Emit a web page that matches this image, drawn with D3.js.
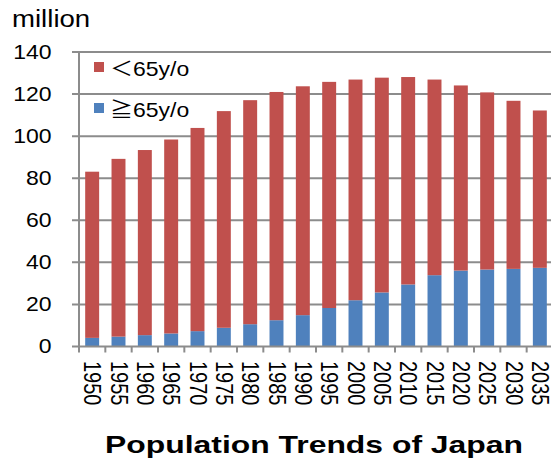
<!DOCTYPE html>
<html>
<head>
<meta charset="utf-8">
<script src="https://cdn.jsdelivr.net/npm/d3@7"></script>
<style>
  body { margin: 0; background: #fff; }
  text { font-family: "Liberation Sans", Arial, "Noto Sans CJK JP", sans-serif; }
</style>
</head>
<body>
<svg id="chart" width="551" height="462"></svg>
<script>
const years = ["1950", "1955", "1960", "1965", "1970", "1975", "1980", "1985", "1990",
  "1995", "2000", "2005", "2010", "2015", "2020", "2025", "2030", "2035"];
const over65 = [4.1, 4.7, 5.4, 6.2, 7.3, 8.9, 10.6, 12.5, 14.9, 18.3, 22.0, 25.7, 29.5, 33.9, 36.1, 36.6, 36.9, 37.4];
const under65 = [79.0, 84.5, 88.0, 92.2, 96.6, 103.0, 106.5, 108.5, 108.8, 107.5, 104.9, 102.1, 98.6, 93.0, 88.0, 84.2, 79.9, 74.8];
const yTicks = [0, 20, 40, 60, 80, 100, 120, 140];

const svg = d3.select("#chart");
const margin = { left: 79, top: 52, right: 553, bottom: 346.5 };
const sx = 1.15; // text in the original is a little wide

const x = d3.scaleBand()
  .domain(years)
  .range([margin.left, margin.right])
  .paddingInner(0.47)
  .paddingOuter(0.235);

const y = d3.scaleLinear()
  .domain([0, 140])
  .range([margin.bottom, margin.top]);

// gridlines
svg.append("g")
  .selectAll("line")
  .data(yTicks.slice(1))
  .enter().append("line")
  .attr("x1", 72).attr("x2", 560)
  .attr("y1", d => y(d)).attr("y2", d => y(d))
  .attr("stroke", "#8c8c8c")
  .attr("stroke-width", 2);

// y axis tick labels
svg.append("g")
  .selectAll("text")
  .data(yTicks)
  .enter().append("text")
  .attr("transform", d => `translate(51.5,${y(d) + 6.5}) scale(${sx},1)`)
  .attr("text-anchor", "end")
  .attr("font-size", 20)
  .attr("fill", "#000")
  .text(d => d);

const stack = years.map((yr, i) => ({ year: yr, over: over65[i], under: under65[i] }));

// bars
const bars = svg.append("g");
bars.selectAll("rect.over")
  .data(stack)
  .enter().append("rect")
  .attr("class", "over")
  .attr("x", d => x(d.year))
  .attr("width", x.bandwidth())
  .attr("y", d => y(d.over))
  .attr("height", d => y(0) - y(d.over))
  .attr("fill", "#4F81BD");

bars.selectAll("rect.under")
  .data(stack)
  .enter().append("rect")
  .attr("class", "under")
  .attr("x", d => x(d.year))
  .attr("width", x.bandwidth())
  .attr("y", d => y(d.over + d.under))
  .attr("height", d => y(d.over) - y(d.over + d.under))
  .attr("fill", "#C0504D");

// axes lines
svg.append("line")
  .attr("x1", margin.left).attr("x2", margin.left)
  .attr("y1", y(140)).attr("y2", y(0))
  .attr("stroke", "#8c8c8c").attr("stroke-width", 2);
svg.append("line")
  .attr("x1", 72).attr("x2", 560)
  .attr("y1", y(0)).attr("y2", y(0))
  .attr("stroke", "#8c8c8c").attr("stroke-width", 2);

// x tick marks at band boundaries
const tickX = i => margin.left + i * (margin.right - margin.left) / years.length;
svg.append("g")
  .selectAll("line")
  .data(d3.range(years.length + 1))
  .enter().append("line")
  .attr("x1", tickX).attr("x2", tickX)
  .attr("y1", y(0)).attr("y2", y(0) + 6)
  .attr("stroke", "#8c8c8c").attr("stroke-width", 2);

// x labels rotated
svg.append("g")
  .selectAll("text")
  .data(years)
  .enter().append("text")
  .attr("transform", d => `translate(${x(d) + x.bandwidth() / 2 - 8},361) rotate(90) scale(1,${sx})`)
  .attr("font-size", 20)
  .attr("fill", "#000")
  .text(d => d);

// y unit
svg.append("text")
  .attr("transform", `translate(12,27) scale(${sx},1)`)
  .attr("font-size", 24)
  .attr("fill", "#000")
  .text("million");

// legend
const legend = svg.append("g");
const legendItems = [
  { label: "＜65y/o", color: "#C0504D", y: 62 },
  { label: "≧65y/o", color: "#4F81BD", y: 103 }
];
legend.selectAll("rect")
  .data(legendItems)
  .enter().append("rect")
  .attr("x", 94).attr("y", d => d.y)
  .attr("width", 10).attr("height", 10)
  .attr("fill", d => d.color);
legend.selectAll("text")
  .data(legendItems)
  .enter().append("text")
  .attr("transform", d => `translate(110,${d.y + 14}) scale(${sx},1)`)
  .attr("font-size", 20)
  .attr("fill", "#000")
  .text(d => d.label);

// title
svg.append("text")
  .attr("x", 105).attr("y", 453)
  .attr("font-size", 24)
  .attr("font-weight", "bold")
  .attr("textLength", 418)
  .attr("lengthAdjust", "spacingAndGlyphs")
  .attr("fill", "#000")
  .text("Population Trends of Japan");
</script>
</body>
</html>
